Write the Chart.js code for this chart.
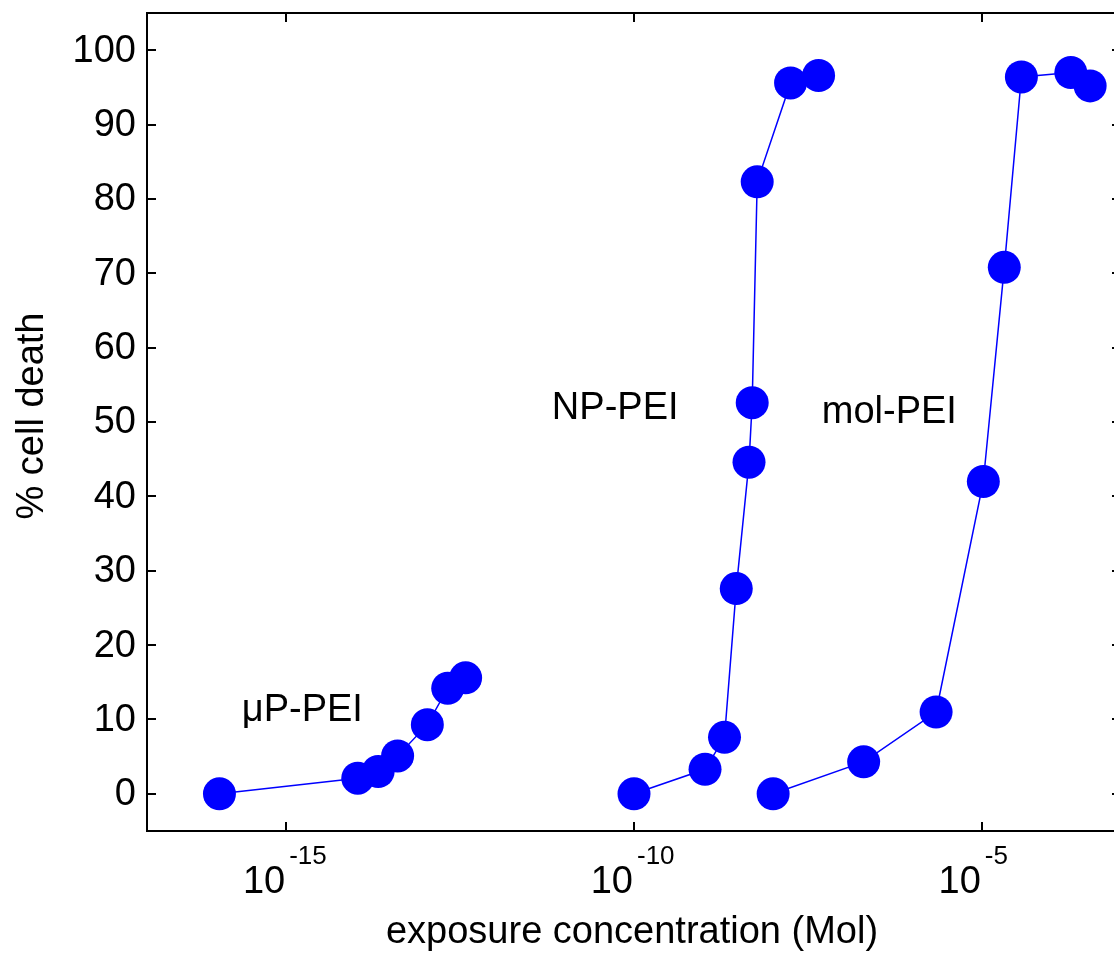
<!DOCTYPE html>
<html><head><meta charset="utf-8">
<script src="https://cdn.jsdelivr.net/npm/chart.js@4.4.1/dist/chart.umd.min.js"></script>
<style>
html,body{margin:0;padding:0;background:#fff;overflow:hidden;width:1114px;height:959px}
#wrap{position:absolute;left:0;top:0;width:1140px;height:959px}
</style>
</head><body>
<div id="wrap"><canvas id="c" width="1140" height="959"></canvas></div>
<script>
// ---- data (exposure concentration in Mol, % cell death) ----
const upX  = [1.1e-16, 1.07e-14, 2.1e-14, 4.0e-14, 1.07e-13, 2.1e-13, 3.8e-13];
const upY  = [0, 2.1, 3.0, 5.1, 9.3, 14.2, 15.6];
const npX  = [1.0e-10, 1.05e-9, 2.0e-9, 2.95e-9, 4.5e-9, 5.0e-9, 5.9e-9, 1.78e-8, 4.5e-8];
const npY  = [0, 3.3, 7.6, 27.6, 44.6, 52.6, 82.3, 95.6, 96.6];
const molX = [1.0e-8, 2.0e-7, 2.2e-6, 1.05e-5, 2.1e-5, 3.7e-5, 1.9e-4, 3.6e-4];
const molY = [0, 4.3, 11.0, 42.0, 70.8, 96.4, 97.0, 95.2];

const xTickValues    = [1e-15, 1e-10, 1e-5];
const xTickBase      = '10';
const xTickExponents = ['-15', '-10', '-5'];
const yTicks         = [0, 10, 20, 30, 40, 50, 60, 70, 80, 90, 100];

const xTitle = 'exposure concentration (Mol)';
const yTitle = '% cell death';
const labelTexts = ['\u03bcP-PEI', 'NP-PEI', 'mol-PEI'];
const labelX = [2.3e-16, 6.6e-12, 5.0e-8];
const labelY = [9.8, 50.4, 49.9];

// ---- chart ----
const FONT = '"Liberation Sans", Arial, sans-serif';
const BLUE = '#0000ff';

function toXY(xs, ys) { return xs.map((x, i) => ({ x: x, y: ys[i] })); }
function ds(xs, ys) {
  return {
    data: toXY(xs, ys),
    showLine: true,
    borderColor: BLUE,
    borderWidth: 1.5,
    backgroundColor: BLUE,
    pointRadius: 16.5,
    pointHoverRadius: 16.5,
    pointBackgroundColor: BLUE,
    pointBorderColor: BLUE,
    pointBorderWidth: 0,
    tension: 0,
    fill: false
  };
}

const decor = {
  id: 'decor',
  afterDraw(chart) {
    const ctx = chart.ctx;
    const a = chart.chartArea;
    const xs = chart.scales.x, ys = chart.scales.y;
    ctx.save();
    ctx.strokeStyle = '#000';
    ctx.fillStyle = '#000';
    ctx.lineWidth = 2;
    ctx.strokeRect(a.left, a.top, a.right - a.left, a.bottom - a.top);
    const TL = 9;
    ctx.beginPath();
    xTickValues.forEach(v => {
      const px = Math.round(xs.getPixelForValue(v));
      ctx.moveTo(px, a.bottom); ctx.lineTo(px, a.bottom - TL);
      ctx.moveTo(px, a.top);    ctx.lineTo(px, a.top + TL);
    });
    yTicks.forEach(v => {
      const py = Math.round(ys.getPixelForValue(v));
      ctx.moveTo(a.left, py);  ctx.lineTo(a.left + TL, py);
      ctx.moveTo(a.right, py); ctx.lineTo(a.right - TL, py);
    });
    ctx.stroke();

    // y tick labels
    ctx.font = '38px ' + FONT;
    ctx.textAlign = 'right';
    ctx.textBaseline = 'middle';
    yTicks.forEach(v => {
      ctx.fillText(String(v), a.left - 11, ys.getPixelForValue(v) + 1);
    });

    // x tick labels 10^n
    ctx.textBaseline = 'alphabetic';
    xTickValues.forEach((v, i) => {
      const px = xs.getPixelForValue(v);
      ctx.font = '38px ' + FONT;
      ctx.textAlign = 'right';
      ctx.fillText(xTickBase, px - 1, 893);
      ctx.font = '26px ' + FONT;
      ctx.textAlign = 'left';
      ctx.fillText(xTickExponents[i], px + 3, 864);
    });

    // axis titles
    ctx.font = '38px ' + FONT;
    ctx.textAlign = 'center';
    ctx.textBaseline = 'alphabetic';
    ctx.fillText(xTitle, 632, 943);
    ctx.save();
    ctx.translate(43, 416);
    ctx.rotate(-Math.PI / 2);
    ctx.fillText(yTitle, 0, 0);
    ctx.restore();

    // series labels
    ctx.textAlign = 'left';
    labelTexts.forEach((t, i) => {
      ctx.fillText(t, xs.getPixelForValue(labelX[i]), ys.getPixelForValue(labelY[i]));
    });
    ctx.restore();
  }
};

new Chart(document.getElementById('c'), {
  type: 'scatter',
  data: { datasets: [ds(upX, upY), ds(npX, npY), ds(molX, molY)] },
  options: {
    responsive: false,
    animation: false,
    layout: { autoPadding: false, padding: { left: 0, top: 13, right: 19, bottom: 128 } },
    plugins: { legend: { display: false }, tooltip: { enabled: false } },
    scales: {
      x: {
        type: 'logarithmic',
        min: 1e-17, max: 1e-3,
        grid: { display: false, drawTicks: false },
        border: { display: false },
        ticks: { display: false },
        afterBuildTicks: s => { s.ticks = xTickValues.map(v => ({ value: v })); },
        afterFit: s => { s.height = 0; }
      },
      y: {
        type: 'linear',
        min: -5, max: 105,
        grid: { display: false, drawTicks: false },
        border: { display: false },
        ticks: { display: false },
        afterBuildTicks: s => { s.ticks = yTicks.map(v => ({ value: v })); },
        afterFit: s => { s.width = 147; }
      }
    }
  },
  plugins: [decor]
});
</script>
</body></html>
